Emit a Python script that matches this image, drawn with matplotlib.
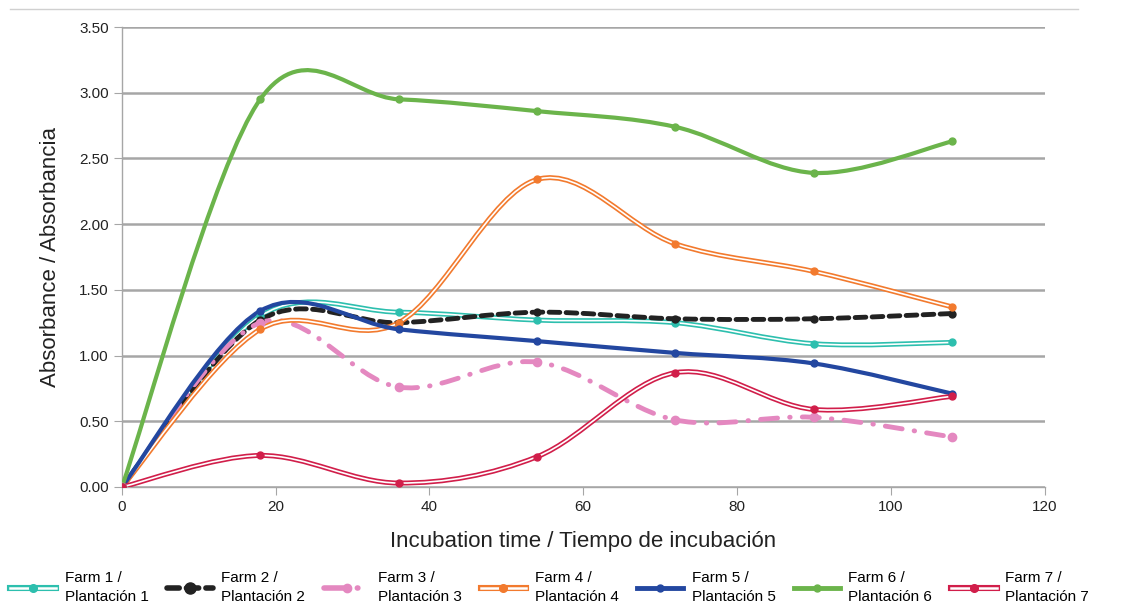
import matplotlib
matplotlib.use("Agg")
import matplotlib.pyplot as plt
import matplotlib.patheffects as pe
from matplotlib.path import Path
from matplotlib.patches import PathPatch
from matplotlib.lines import Line2D

plt.rcParams['font.family'] = ['Liberation Sans', 'DejaVu Sans']

# Data
hours = [0, 18, 36, 54, 72, 90, 108]
farm1 = [0.00, 1.30, 1.33, 1.27, 1.25, 1.09, 1.10]
farm2 = [0.00, 1.27, 1.25, 1.33, 1.28, 1.28, 1.32]
farm3 = [0.00, 1.25, 0.76, 0.95, 0.51, 0.53, 0.38]
farm4 = [0.00, 1.20, 1.25, 2.34, 1.85, 1.64, 1.37]
farm5 = [0.00, 1.34, 1.20, 1.11, 1.02, 0.94, 0.71]
farm6 = [0.00, 2.95, 2.95, 2.86, 2.74, 2.39, 2.63]
farm7 = [0.00, 0.24, 0.03, 0.23, 0.87, 0.59, 0.69]
labels = ["Farm 1 /\nPlantación 1", "Farm 2 /\nPlantación 2", "Farm 3 /\nPlantación 3",
          "Farm 4 /\nPlantación 4", "Farm 5 /\nPlantación 5", "Farm 6 /\nPlantación 6",
          "Farm 7 /\nPlantación 7"]


def smooth_path(xs, ys):
    """Bezier path through the points (Catmull-Rom tangents, like Excel smoothing)."""
    n = len(xs)
    verts = [(xs[0], ys[0])]
    codes = [Path.MOVETO]
    for i in range(n - 1):
        a = i - 1 if i > 0 else i
        d = i + 2 if i + 2 < n else i + 1
        c1 = (xs[i] + (xs[i + 1] - xs[a]) / 6, ys[i] + (ys[i + 1] - ys[a]) / 6)
        c2 = (xs[i + 1] - (xs[d] - xs[i]) / 6, ys[i + 1] - (ys[d] - ys[i]) / 6)
        verts += [c1, c2, (xs[i + 1], ys[i + 1])]
        codes += [Path.CURVE4] * 3
    return Path(verts, codes)


# style per series: color, kind, linewidth, linestyle, marker size, legend marker size
series = [
    (farm1, '#2dbfae', 'double', 3.6, '-', 5, 5.5),
    (farm2, '#222222', 'plain', 3.5, (0, (2.2, 1.3)), 5, 8),
    (farm3, '#e488c0', 'plain', 3.5, (0, (3.5, 2.5, 0.1, 2.5)), 6, 6),
    (farm4, '#f27a2e', 'double', 3.6, '-', 5, 5.5),
    (farm5, '#2347a0', 'plain', 3.0, '-', 5, 5),
    (farm6, '#6bb44b', 'plain', 3.0, '-', 5, 5),
    (farm7, '#d11e4a', 'double', 3.6, '-', 5, 5.5),
]

fig = plt.figure(figsize=(11.28, 6.06), dpi=100)
ax = fig.add_axes([0.108, 0.1964, 0.818, 0.759])

handles = []
for ys, color, kind, lw, ls, ms, lms in series:
    path = smooth_path(hours, ys)
    if kind == 'double':
        patch = PathPatch(path, fill=False, edgecolor='white', lw=1.2,
                          path_effects=[pe.Stroke(linewidth=lw, foreground=color), pe.Normal()],
                          zorder=3)
        line_h = Line2D([], [], color='white', lw=1.8,
                        path_effects=[pe.Stroke(linewidth=lw + 0.8, foreground=color), pe.Normal()])
        dot_h = Line2D([], [], ls='none', marker='o', ms=lms, color=color)
        h = (line_h, dot_h)
    else:
        patch = PathPatch(path, fill=False, edgecolor=color, lw=lw, linestyle=ls,
                          capstyle='round', zorder=3)
        h = Line2D([], [], color=color, lw=lw + 0.5, linestyle=ls, dash_capstyle='round',
                   marker='o', ms=lms, markerfacecolor=color, markeredgecolor=color)
    ax.add_patch(patch)
    ax.plot(hours, ys, 'o', color=color, ms=ms, zorder=4)
    handles.append(h)

ax.set_xlim(0, 120)
ax.set_ylim(0, 3.5)
ax.set_xticks(range(0, 121, 20))
ax.set_yticks([i * 0.5 for i in range(8)])
ax.set_yticklabels([f"{i * 0.5:.2f}" for i in range(8)])
ax.grid(axis='y', color='#a6a6a6', lw=1.8)
ax.set_axisbelow(True)
for s in ['top', 'right']:
    ax.spines[s].set_visible(False)
for s in ['left', 'bottom']:
    ax.spines[s].set_color('#a6a6a6')
    ax.spines[s].set_linewidth(1.0)
ax.tick_params(axis='both', colors='#a6a6a6', labelcolor='#222222', labelsize=11, length=6)
ax.set_xlabel("Incubation time / Tiempo de incubación", fontsize=16, color='#222222', labelpad=12)
ax.set_ylabel("Absorbance / Absorbancia", fontsize=16, color='#222222', labelpad=13)

# top separator line
fig.add_artist(Line2D([0.009, 0.956], [0.985, 0.985], color='#d0d0d0', lw=1.0,
                      transform=fig.transFigure))

leg = fig.legend(handles, labels, loc='lower left', bbox_to_anchor=(0.001, -0.012), ncol=7,
                 frameon=False, fontsize=11, handlelength=3.0, handletextpad=0.55,
                 columnspacing=1.22, labelspacing=0.2, borderaxespad=0.2)
for t in leg.get_texts():
    t.set_linespacing(1.45)

fig.savefig("out.png", dpi=100)
